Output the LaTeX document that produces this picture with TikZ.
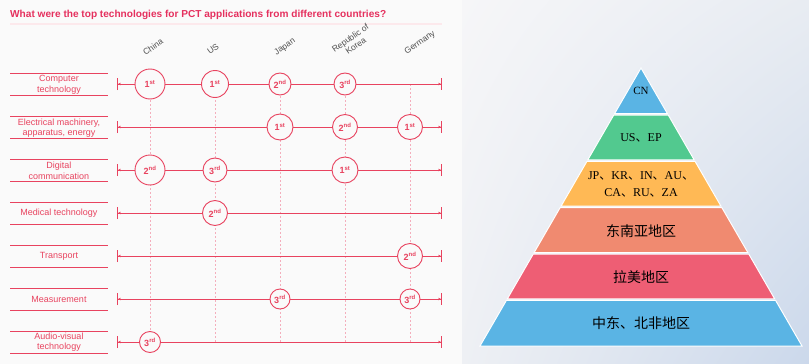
\documentclass[tikz,border=0pt]{standalone}
\usepackage{fontspec}
\setmainfont{Liberation Sans}
\newfontfamily\cjk{Noto Sans CJK SC}
\newfontfamily\latinserif{Liberation Serif}
\usepackage{tikz}
\usetikzlibrary{shapes, arrows.meta, shadings}

\definecolor{pctred}{HTML}{E8435F}
\definecolor{pctpink}{HTML}{F4AEBC}
\definecolor{titlered}{HTML}{E5305E}
\definecolor{leftbg}{HTML}{FAFAFA}
\definecolor{headgray}{HTML}{505050}
\definecolor{layblue}{HTML}{5AB4E4}
\definecolor{laygreen}{HTML}{52C98F}
\definecolor{layorange}{HTML}{FFB955}
\definecolor{laysalmon}{HTML}{F08A70}
\definecolor{layrose}{HTML}{EE5E74}
\definecolor{bgUL}{HTML}{F6F6F8}
\definecolor{bgUR}{HTML}{E8ECF2}
\definecolor{bgLL}{HTML}{EEF0F4}
\definecolor{bgLR}{HTML}{CBD8EB}

\newcommand{\dun}{{\cjk 、}}
\newcommand{\rk}[2]{#1\textsuperscript{#2}}

\begin{document}
\begin{tikzpicture}[x=1pt, y=-1pt]
  \tikzset{rank/.style={circle, draw=pctred, fill=leftbg, line width=0.9pt, inner sep=0pt,
      text=pctred, font=\fontsize{9}{9}\selectfont\bfseries}}
  \tikzset{rowline/.style={pctred, line width=0.9pt,
      {Bar[width=12pt]Stealth[length=3pt,width=2.5pt]}-{Stealth[length=3pt,width=2.5pt]Bar[width=12pt]}}}
  \tikzset{labelline/.style={pctred, line width=0.9pt}}
  \tikzset{rowlabel/.style={align=center, text=pctred, inner sep=0pt,
      font=\fontsize{9}{10.5}\selectfont}}
  \tikzset{colhead/.style={rotate=35, text=headgray, align=center, inner sep=0pt,
      font=\fontsize{8.5}{9.5}\selectfont}}
  \tikzset{colline/.style={pctpink, line width=0.7pt, dash pattern=on 2pt off 2pt}}
  \tikzset{layer/.style={draw=white, line width=1pt}}
  \tikzset{laytext/.style={text=black, align=center, inner sep=0pt}}

  % backgrounds
  \useasboundingbox (0,0) rectangle (809,364);
  \fill[leftbg] (0,0) rectangle (462,364);
  \shade[upper left=bgUL, upper right=bgUR, lower left=bgLL, lower right=bgLR]
    (462,0) rectangle (809,364);

  % title
  \node[anchor=west, text=titlered, inner sep=0pt, font=\fontsize{10.1}{11}\selectfont\bfseries]
    (title) at (10,15) {What were the top technologies for PCT applications from different countries?};
  \draw[pctred!12, line width=1.2pt] (10,24) -- (442,24);

  % country columns
  \node[colhead] (hCN) at (153,47) {China};
  \node[colhead] (hUS) at (213,49) {US};
  \node[colhead] (hJP) at (285,47) {Japan};
  \node[colhead] (hKR) at (353,42) {Republic of\\Korea};
  \node[colhead] (hDE) at (420,43) {Germany};

  \coordinate (CN-top) at (150,84);  \coordinate (CN-bot) at (150,342);
  \coordinate (US-top) at (215,84);  \coordinate (US-bot) at (215,342);
  \coordinate (JP-top) at (280,84);  \coordinate (JP-bot) at (280,342);
  \coordinate (KR-top) at (345,84);  \coordinate (KR-bot) at (345,342);
  \coordinate (DE-top) at (410,84);  \coordinate (DE-bot) at (410,342);

  \draw[colline] (CN-top) -- (CN-bot);
  \draw[colline] (US-top) -- (US-bot);
  \draw[colline] (JP-top) -- (JP-bot);
  \draw[colline] (KR-top) -- (KR-bot);
  \draw[colline] (DE-top) -- (DE-bot);

  % technology rows
  \node[rowlabel] (comp) at (59,85) {Computer\\technology};
  \draw[labelline] (10,73) -- (108,73);
  \draw[labelline] (10,95) -- (108,95);
  \coordinate (comp-L) at (117,84);  \coordinate (comp-R) at (442,84);
  \draw[rowline] (comp-L) -- (comp-R);

  \node[rowlabel] (elec) at (59,128) {Electrical machinery,\\apparatus, energy};
  \draw[labelline] (10,116) -- (108,116);
  \draw[labelline] (10,138) -- (108,138);
  \coordinate (elec-L) at (117,127);  \coordinate (elec-R) at (442,127);
  \draw[rowline] (elec-L) -- (elec-R);

  \node[rowlabel] (digi) at (59,171) {Digital\\communication};
  \draw[labelline] (10,159) -- (108,159);
  \draw[labelline] (10,181) -- (108,181);
  \coordinate (digi-L) at (117,170);  \coordinate (digi-R) at (442,170);
  \draw[rowline] (digi-L) -- (digi-R);

  \node[rowlabel] (medi) at (59,213) {Medical technology};
  \draw[labelline] (10,202) -- (108,202);
  \draw[labelline] (10,224) -- (108,224);
  \coordinate (medi-L) at (117,213);  \coordinate (medi-R) at (442,213);
  \draw[rowline] (medi-L) -- (medi-R);

  \node[rowlabel] (tran) at (59,256) {Transport};
  \draw[labelline] (10,245) -- (108,245);
  \draw[labelline] (10,267) -- (108,267);
  \coordinate (tran-L) at (117,256);  \coordinate (tran-R) at (442,256);
  \draw[rowline] (tran-L) -- (tran-R);

  \node[rowlabel] (meas) at (59,299) {Measurement};
  \draw[labelline] (10,288) -- (108,288);
  \draw[labelline] (10,310) -- (108,310);
  \coordinate (meas-L) at (117,299);  \coordinate (meas-R) at (442,299);
  \draw[rowline] (meas-L) -- (meas-R);

  \node[rowlabel] (audi) at (59,342) {Audio-visual\\technology};
  \draw[labelline] (10,331) -- (108,331);
  \draw[labelline] (10,353) -- (108,353);
  \coordinate (audi-L) at (117,342);  \coordinate (audi-R) at (442,342);
  \draw[rowline] (audi-L) -- (audi-R);

  % ranks
  \node[rank, minimum size=30pt] (comp-CN) at (150,84) {\rk{1}{st}};
  \node[rank, minimum size=27pt] (comp-US) at (215,84) {\rk{1}{st}};
  \node[rank, minimum size=22pt] (comp-JP) at (280,84) {\rk{2}{nd}};
  \node[rank, minimum size=22pt] (comp-KR) at (345,84) {\rk{3}{rd}};

  \node[rank, minimum size=26pt] (elec-JP) at (280,127) {\rk{1}{st}};
  \node[rank, minimum size=25pt] (elec-KR) at (345,127) {\rk{2}{nd}};
  \node[rank, minimum size=25pt] (elec-DE) at (410,127) {\rk{1}{st}};

  \node[rank, minimum size=30pt] (digi-CN) at (150,170) {\rk{2}{nd}};
  \node[rank, minimum size=24pt] (digi-US) at (215,170) {\rk{3}{rd}};
  \node[rank, minimum size=26pt] (digi-KR) at (345,170) {\rk{1}{st}};

  \node[rank, minimum size=25pt] (medi-US) at (215,213) {\rk{2}{nd}};

  \node[rank, minimum size=25pt] (tran-DE) at (410,256) {\rk{2}{nd}};

  \node[rank, minimum size=20pt] (meas-JP) at (280,299) {\rk{3}{rd}};
  \node[rank, minimum size=20pt] (meas-DE) at (410,299) {\rk{3}{rd}};

  \node[rank, minimum size=21pt] (audi-CN) at (150,342) {\rk{3}{rd}};

  % pyramid
  \filldraw[layer, fill=layblue]   (641,68) -- (667.4,113.6) -- (614.6,113.6) -- cycle;
  \filldraw[layer, fill=laygreen]  (613.7,115.1) -- (668.3,115.1) -- (694.2,159.9) -- (587.8,159.9) -- cycle;
  \filldraw[layer, fill=layorange] (586.9,161.4) -- (695.1,161.4) -- (721.0,206.2) -- (561.0,206.2) -- cycle;
  \filldraw[layer, fill=laysalmon] (560.1,207.7) -- (721.9,207.7) -- (747.9,252.6) -- (534.1,252.6) -- cycle;
  \filldraw[layer, fill=layrose]   (533.2,254.1) -- (748.8,254.1) -- (774.7,298.9) -- (507.3,298.9) -- cycle;
  \filldraw[layer, fill=layblue]   (506.4,300.4) -- (775.6,300.4) -- (802.0,346.0) -- (480.0,346.0) -- cycle;

  \node[laytext, font=\latinserif\fontsize{11}{12}\selectfont] (cn) at (641,91) {CN};
  \node[laytext, font=\latinserif\fontsize{12}{13}\selectfont] (usep) at (641,138) {US\dun EP};
  \node[laytext, font=\latinserif\fontsize{12}{17}\selectfont] (jpkr) at (641,184.5)
    {JP\dun KR\dun IN\dun AU\dun\\CA\dun RU\dun ZA};
  \node[laytext, font=\cjk\fontsize{14}{15}\selectfont] (sea) at (641,231) {东南亚地区};
  \node[laytext, font=\cjk\fontsize{14}{15}\selectfont] (lat) at (641,277) {拉美地区};
  \node[laytext, font=\cjk\fontsize{14}{15}\selectfont] (mena) at (641,323) {中东、北非地区};
\end{tikzpicture}
\end{document}
